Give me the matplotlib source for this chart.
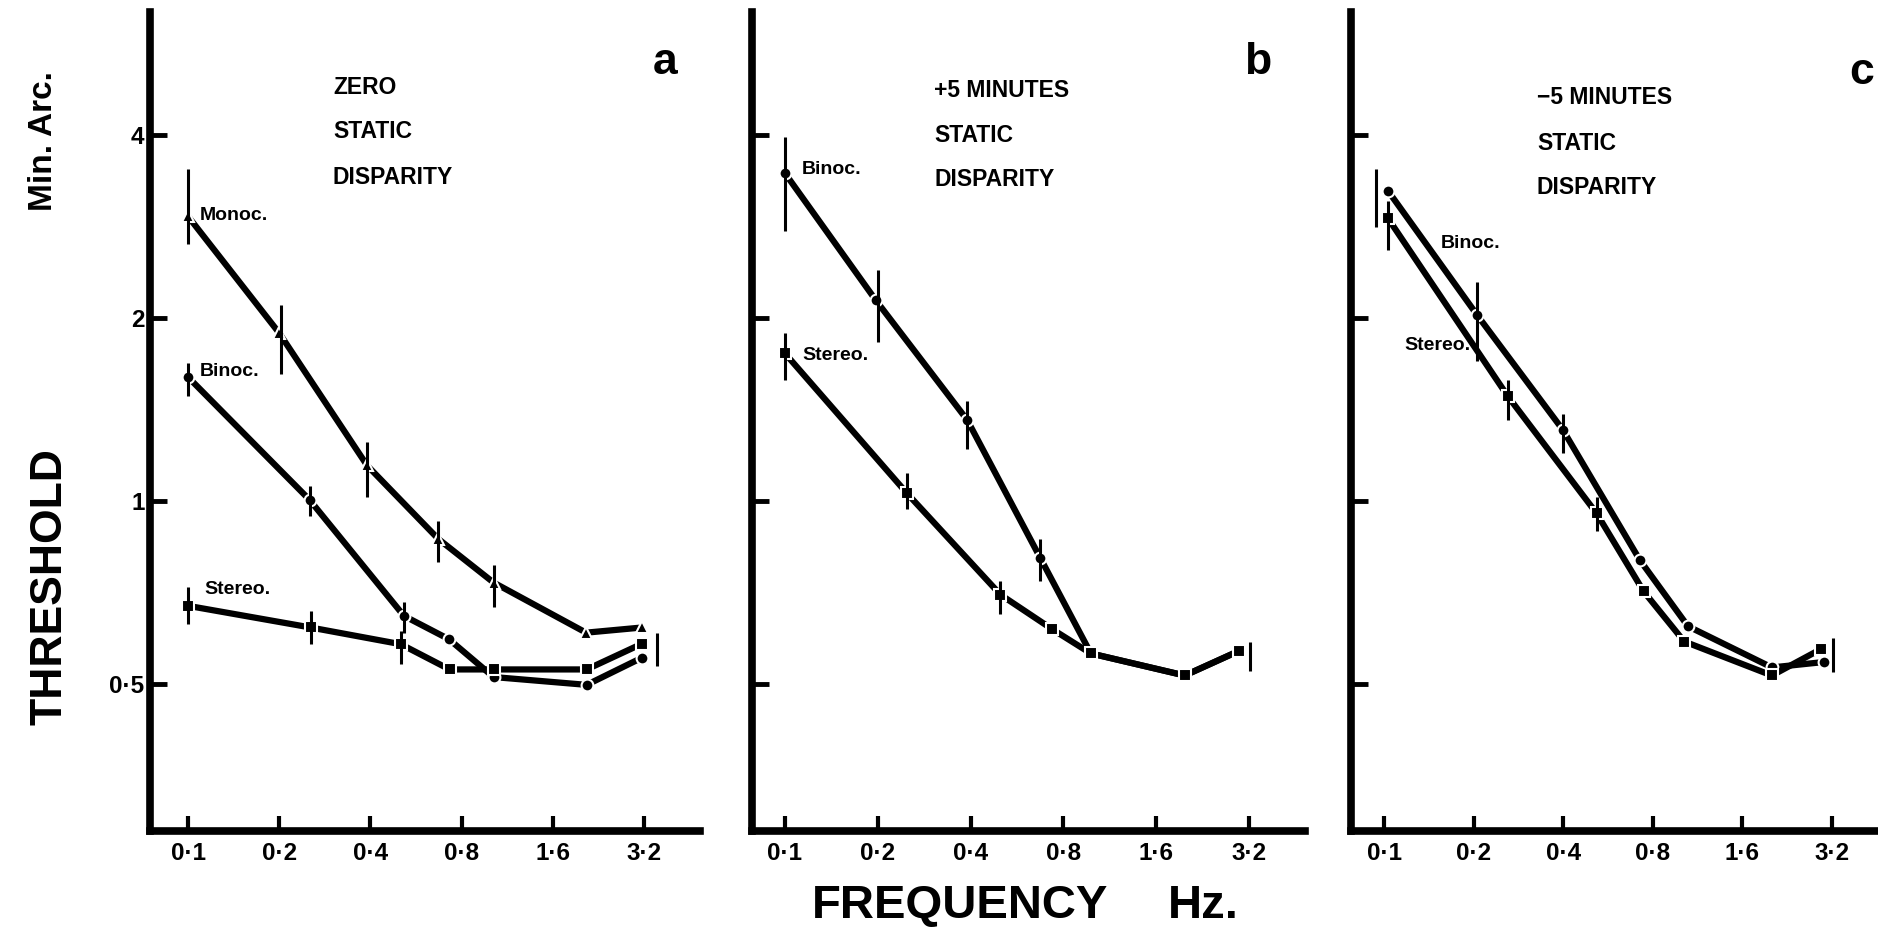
import matplotlib
matplotlib.use("Agg")
import matplotlib.pyplot as plt
from matplotlib.ticker import FixedLocator, NullLocator

plt.rcParams['font.family'] = ['Liberation Sans', 'DejaVu Sans']
plt.rcParams['font.weight'] = 'bold'

# tick positions / labels
freq_ticks = [0.1, 0.2, 0.4, 0.8, 1.6, 3.2]
freq_labels = ["0·1", "0·2", "0·4", "0·8", "1·6", "3·2"]
thr_ticks = [0.5, 1, 2, 4]
thr_labels = ["0·5", "1", "2", "4"]

# panel a : zero static disparity
a_monoc_f = [0.1, 0.2, 0.39, 0.67, 1.02, 2.06, 3.15]
a_monoc_v = [2.94, 1.89, 1.145, 0.867, 0.735, 0.608, 0.620]
a_binoc_f = [0.1, 0.252, 0.516, 0.727, 1.02, 2.07, 3.15]
a_binoc_v = [1.60, 1.005, 0.648, 0.593, 0.514, 0.499, 0.553]
a_stereo_f = [0.1, 0.254, 0.504, 0.73, 1.02, 2.07, 3.15]
a_stereo_v = [0.673, 0.620, 0.582, 0.529, 0.529, 0.529, 0.583]
# error bars: frequency, low, high
a_err_f = [0.1, 0.203, 0.39, 0.67, 1.02, 0.1, 0.252, 0.516, 0.1, 0.254, 0.504, 3.52]
a_err_lo = [2.65, 1.62, 1.015, 0.793, 0.669, 1.49, 0.947, 0.608, 0.628, 0.582, 0.540, 0.536]
a_err_hi = [3.52, 2.10, 1.25, 0.929, 0.784, 1.69, 1.06, 0.682, 0.722, 0.660, 0.612, 0.608]

# panel b : +5 minutes static disparity
b_binoc_f = [0.1, 0.197, 0.39, 0.672, 0.982, 1.98, 2.96]
b_binoc_v = [3.46, 2.14, 1.36, 0.808, 0.562, 0.517, 0.567]
b_stereo_f = [0.1, 0.248, 0.50, 0.736, 0.982, 1.98, 2.96]
b_stereo_v = [1.75, 1.032, 0.702, 0.616, 0.562, 0.517, 0.567]
b_err_f = [0.1, 0.2, 0.39, 0.672, 0.1, 0.248, 0.50, 3.22]
b_err_lo = [2.78, 1.83, 1.22, 0.740, 1.58, 0.971, 0.652, 0.526]
b_err_hi = [3.97, 2.40, 1.46, 0.866, 1.89, 1.114, 0.740, 0.588]

# panel c : -5 minutes static disparity
c_binoc_f = [0.103, 0.206, 0.399, 0.724, 1.05, 2.01, 3.0]
c_binoc_v = [3.24, 2.02, 1.31, 0.800, 0.623, 0.533, 0.544]
c_stereo_f = [0.103, 0.260, 0.518, 0.745, 1.02, 2.01, 2.95]
c_stereo_v = [2.92, 1.49, 0.955, 0.711, 0.588, 0.517, 0.572]
c_err_f = [0.094, 0.206, 0.399, 0.103, 0.260, 0.518, 3.22]
c_err_lo = [2.82, 1.70, 1.20, 2.59, 1.36, 0.894, 0.524]
c_err_hi = [3.52, 2.29, 1.39, 3.11, 1.58, 1.015, 0.596]

fig = plt.figure(figsize=(18.78, 9.34), dpi=100)
W, H = 1878, 934


def make_axes(left_px, right_px, f01_px, oct_px):
    ax = fig.add_axes([left_px / W, (H - 831) / H, (right_px - left_px) / W, (831 - 12) / H])
    ax.set_xscale('log')
    ax.set_yscale('log')
    ax.set_xlim(0.1 * 2 ** (-(f01_px - left_px) / oct_px), 0.1 * 2 ** ((right_px - f01_px) / oct_px))
    ax.set_ylim(0.287, 6.37)
    for s in ['top', 'right']:
        ax.spines[s].set_visible(False)
    for s in ['left', 'bottom']:
        ax.spines[s].set_linewidth(5.5)
    ax.xaxis.set_major_locator(FixedLocator(freq_ticks))
    ax.xaxis.set_minor_locator(NullLocator())
    ax.set_xticklabels(freq_labels)
    ax.yaxis.set_major_locator(FixedLocator(thr_ticks))
    ax.yaxis.set_minor_locator(NullLocator())
    ax.tick_params(axis='x', direction='in', length=11, width=3, labelsize=17.5, pad=8)
    ax.tick_params(axis='y', direction='in', length=12, width=3.5, labelsize=17.5, pad=4)
    ax.patch.set_alpha(0)
    return ax


def draw(ax, f, v, marker):
    ax.plot(f, v, color='black', lw=4.5, marker=marker, ms=8.5,
            mfc='black', mec='white', mew=1.5, solid_capstyle='butt')


def errs(ax, f, lo, hi):
    ax.vlines(f, lo, hi, color='black', lw=2.2)


ax_a = make_axes(150, 700, 188, 91.2)
ax_b = make_axes(752, 1305, 785, 92.8)
ax_c = make_axes(1351, 1900, 1384, 89.6)

ax_a.set_yticklabels(thr_labels)
ax_b.set_yticklabels([])
ax_c.set_yticklabels([])

draw(ax_a, a_monoc_f, a_monoc_v, '^')
draw(ax_a, a_binoc_f, a_binoc_v, 'o')
draw(ax_a, a_stereo_f, a_stereo_v, 's')
errs(ax_a, a_err_f, a_err_lo, a_err_hi)

draw(ax_b, b_binoc_f, b_binoc_v, 'o')
draw(ax_b, b_stereo_f, b_stereo_v, 's')
errs(ax_b, b_err_f, b_err_lo, b_err_hi)

draw(ax_c, c_binoc_f, c_binoc_v, 'o')
draw(ax_c, c_stereo_f, c_stereo_v, 's')
errs(ax_c, c_err_f, c_err_lo, c_err_hi)


def ftext(x, y, s, size, **kw):
    fig.text(x / W, 1 - y / H, s, fontsize=size, fontweight='bold', **kw)


# panel letters
ftext(665, 62, "a", 32, ha='center', va='center')
ftext(1258, 62, "b", 32, ha='center', va='center')
ftext(1862, 72, "c", 32, ha='center', va='center')

# condition captions
for x, y0, lines in [(333, 87, ["ZERO", "STATIC", "DISPARITY"]),
                     (934, 90, ["+5 MINUTES", "STATIC", "DISPARITY"]),
                     (1537, 98, ["−5 MINUTES", "STATIC", "DISPARITY"])]:
    for i, s in enumerate(lines):
        ftext(x, y0 + 45 * i, s, 16.5, ha='left', va='center')

# series labels
ftext(200, 216, "Monoc.", 14, ha='left', va='center')
ftext(200, 371, "Binoc.", 14, ha='left', va='center')
ftext(204, 589, "Stereo.", 14, ha='left', va='center')
ftext(802, 170, "Binoc.", 14, ha='left', va='center')
ftext(802, 355, "Stereo.", 14, ha='left', va='center')
ftext(1441, 244, "Binoc.", 14, ha='left', va='center')
ftext(1404, 345, "Stereo.", 14, ha='left', va='center')

# axis titles
ftext(50, 587, "THRESHOLD", 32, ha='center', va='center', rotation=90)
ftext(44, 141, "Min. Arc.", 24, ha='center', va='center', rotation=90)
ftext(960, 906, "FREQUENCY", 34, ha='center', va='center')
ftext(1168, 906, "Hz.", 34, ha='left', va='center')

fig.savefig("out.png", dpi=100)
